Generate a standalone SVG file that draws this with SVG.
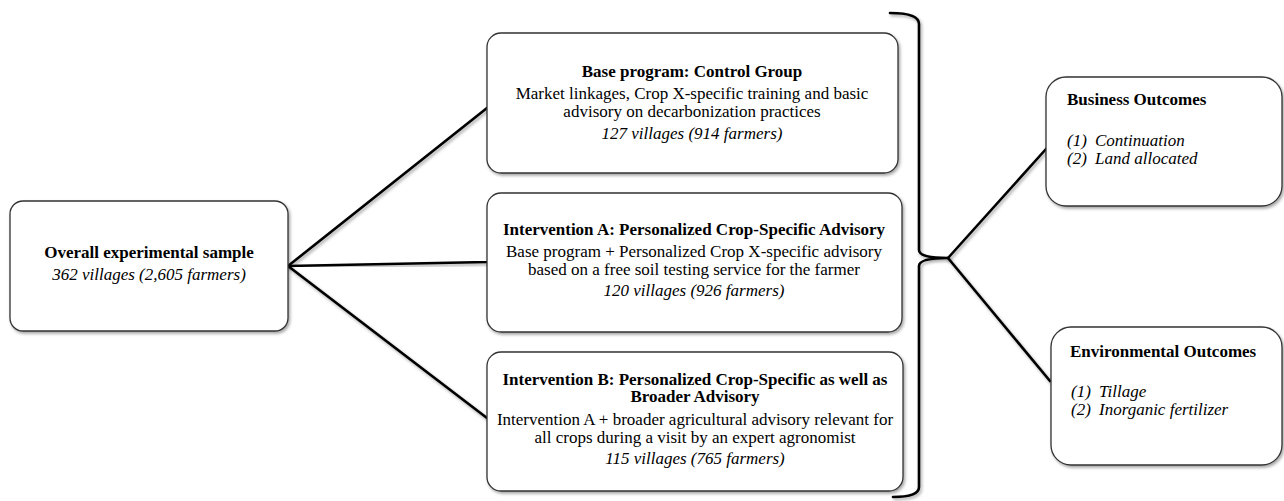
<svg xmlns="http://www.w3.org/2000/svg" width="1284" height="501" viewBox="0 0 1284 501" font-family="'Liberation Serif', 'Times New Roman', serif">
<defs>
<filter id="sh" x="-5%" y="-5%" width="112%" height="115%">
<feDropShadow dx="1.5" dy="2" stdDeviation="1.5" flood-color="#000" flood-opacity="0.35"/>
</filter>
</defs>
<style>
.box{fill:#fff;stroke:#333;stroke-width:1.3;filter:url(#sh)}
.ln{fill:none;stroke:#000;stroke-width:2.6;stroke-linejoin:round;stroke-linecap:round;filter:url(#sh)}
text{font-family:'Liberation Serif','Times New Roman',serif;font-size:17px;fill:#000}
.c{text-anchor:middle}
.b{font-weight:bold}
.i{font-style:italic}
</style>
<rect width="1284" height="501" fill="#fff"/>
<g id="connectors">
<path class="ln" d="M288 266 L487 108"/>
<path class="ln" d="M288 266 L487 262"/>
<path class="ln" d="M288 266 L487 418"/>
<path class="ln" d="M890 13 Q919 13 919 24 L919 250 Q919 258 948 258 Q919 258 919 266 L919 487 Q919 497 893 497"/>
<path class="ln" d="M948 258 L1046 149"/>
<path class="ln" d="M948 258 L1050 381"/>
</g>
<g id="overall">
<rect class="box" x="10" y="201" width="278" height="130" rx="13"/>
<text class="c b" x="149" y="258">Overall experimental sample</text>
<text class="c i" x="149" y="280">362 villages (2,605 farmers)</text>
</g>
<g id="control">
<rect class="box" x="487" y="33" width="411" height="140" rx="14"/>
<text class="c b" x="692" y="77">Base program: Control Group</text>
<text class="c" x="692" y="99">Market linkages, Crop X-specific training and basic</text>
<text class="c" x="692" y="117">advisory on decarbonization practices</text>
<text class="c i" x="692" y="139">127 villages (914 farmers)</text>
</g>
<g id="interventionA">
<rect class="box" x="487" y="193" width="415" height="139" rx="14"/>
<text class="c b" x="694" y="235">Intervention A: Personalized Crop-Specific Advisory</text>
<text class="c" x="694" y="257">Base program + Personalized Crop X-specific advisory</text>
<text class="c" x="694" y="275">based on a free soil testing service for the farmer</text>
<text class="c i" x="694" y="296">120 villages (926 farmers)</text>
</g>
<g id="interventionB">
<rect class="box" x="487" y="352" width="416" height="139" rx="14"/>
<text class="c b" x="695" y="385">Intervention B: Personalized Crop-Specific as well as</text>
<text class="c b" x="695" y="402">Broader Advisory</text>
<text class="c" x="695" y="425">Intervention A + broader agricultural advisory relevant for</text>
<text class="c" x="695" y="443">all crops during a visit by an expert agronomist</text>
<text class="c i" x="695" y="464">115 villages (765 farmers)</text>
</g>
<g id="business">
<rect class="box" x="1046" y="77" width="236" height="129" rx="20"/>
<text class="b" x="1067" y="105">Business Outcomes</text>
<text class="i" x="1067" y="146">(1)</text>
<text class="i" x="1095" y="146">Continuation</text>
<text class="i" x="1067" y="164">(2)</text>
<text class="i" x="1095" y="164">Land allocated</text>
</g>
<g id="environmental">
<rect class="box" x="1051" y="327" width="231" height="138" rx="20"/>
<text class="b" x="1070" y="357">Environmental Outcomes</text>
<text class="i" x="1071" y="397">(1)</text>
<text class="i" x="1099" y="397">Tillage</text>
<text class="i" x="1071" y="415">(2)</text>
<text class="i" x="1099" y="415">Inorganic fertilizer</text>
</g>
</svg>
